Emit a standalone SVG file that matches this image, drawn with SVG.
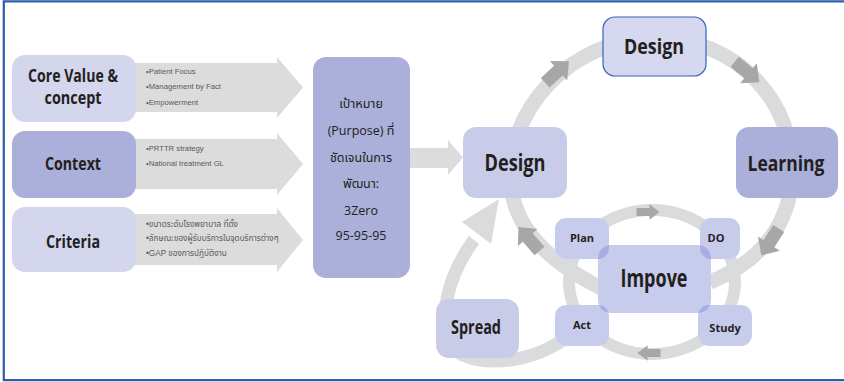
<svg xmlns="http://www.w3.org/2000/svg" width="844" height="382" viewBox="0 0 844 382">
  <defs>
    <style>
      .title { font-family: "Open Sans", "Noto Sans", sans-serif; font-weight: 700; fill: #231f20; text-anchor: middle; }
      .bul { font-family: "Liberation Sans", "Noto Sans Thai", "Noto Sans", sans-serif; font-size: 7.7px; fill: #595959; }
      .bul.th { font-size: 8.2px; }
      .purp { font-family: "Open Sans", "Noto Sans Thai", "Noto Sans", sans-serif; font-size: 12.5px; fill: #231f20; text-anchor: middle; }
      .flat { fill: #dcdcdc; }
      .band { fill: none; stroke: #dadbdc; }
      .dark { fill: #a6a7a9; }
      .light { fill: #d4d6ee; }
      .mid { fill: #c9cce9; }
      .deep { fill: #aab0d9; }
      .under { fill: #ffffff; }
      .glass { fill: #7a82d1; fill-opacity: 0.41; }
    </style>
    <!-- block arrow pointing along +x, centred on the origin -->
    <path id="blk" d="M-16,-6.5 L2,-6.5 L2,-13 L16,0 L2,13 L2,6.5 L-16,6.5 Z"/>
  </defs>

  <rect width="844" height="382" fill="#ffffff"/>
  <!-- frame (right edge runs past the canvas) -->
  <path d="M846,1.4 L3.8,1.4 L3.8,380.2 L846,380.2" fill="none" stroke="#2f5ea8" stroke-width="2.2"/>

  <!-- connectors: flat arrows, loops and direction marks -->
  <g id="connectors">
    <path class="flat" d="M130,63 L277,63 L277,57 L303,87.5 L277,118 L277,112 L130,112 Z"/>
    <path class="flat" d="M130,139 L277,139 L277,133 L303,164 L277,195 L277,189 L130,189 Z"/>
    <path class="flat" d="M130,214 L277,214 L277,208 L303,240 L277,272 L277,265 L130,265 Z"/>
    <path class="flat" d="M405,148 L448,148 L448,140 L463,157.5 L448,175 L448,168 L405,168 Z"/>

    <!-- outer improvement loop -->
    <path class="band" stroke-width="15" d="M605,290 C560,268 515,235 511,185 C505,110 570,40 654,38 C740,38 795,105 792,175 C790,225 760,262 710,282"/>
    <!-- PDSA ring -->
    <ellipse class="band" stroke-width="12" cx="652" cy="282" rx="83" ry="72"/>
    <!-- spread loop back to design -->
    <path class="band" stroke-width="13" d="M578,326 C548,362 478,372 452,348 C436,322 448,275 474,240"/>
    <path fill="#dadbdc" d="M462,222 L499,199 L491,244 Z"/>

    <use href="#blk" class="dark" transform="translate(557,72) rotate(-42)"/>
    <use href="#blk" class="dark" transform="translate(747,72) rotate(40)"/>
    <use href="#blk" class="dark" transform="translate(770,242) rotate(123)"/>
    <use href="#blk" class="dark" transform="translate(529,239) rotate(-131)"/>
    <use href="#blk" class="dark" transform="translate(648,212) scale(0.72,0.6)"/>
    <use href="#blk" class="dark" transform="translate(649,353) rotate(180) scale(0.72,0.6)"/>
  </g>

  <!-- left column -->
  <g id="core-value">
    <rect class="light" x="12" y="55" width="124" height="67" rx="13"/>
    <text class="title" font-size="18" x="73" y="82" textLength="90" lengthAdjust="spacingAndGlyphs">Core Value &amp;</text>
    <text class="title" font-size="18" x="73" y="104" textLength="57" lengthAdjust="spacingAndGlyphs">concept</text>
  </g>
  <g id="core-value-items">
    <text class="bul" x="146" y="74">•Patient Focus</text>
    <text class="bul" x="146" y="89">•Management by Fact</text>
    <text class="bul" x="146" y="105">•Empowerment</text>
  </g>

  <g id="context">
    <rect class="deep" x="12" y="131" width="124" height="67" rx="13"/>
    <text class="title" font-size="18" x="73" y="170" textLength="56" lengthAdjust="spacingAndGlyphs">Context</text>
  </g>
  <g id="context-items">
    <text class="bul" x="146" y="151">•PRTTR strategy</text>
    <text class="bul" x="146" y="166">•National treatment GL</text>
  </g>

  <g id="criteria">
    <rect class="light" x="12" y="207" width="124" height="65" rx="13"/>
    <text class="title" font-size="18" x="73" y="248" textLength="54" lengthAdjust="spacingAndGlyphs">Criteria</text>
  </g>
  <g id="criteria-items">
    <text class="bul th" x="146" y="227">•ขนาดระดับโรงพยาบาล ที่ตั้ง</text>
    <text class="bul th" x="146" y="241">•ลักษณะของผู้รับบริการในจุดบริการต่างๆ</text>
    <text class="bul th" x="146" y="256">•GAP ของการปฏิบัติงาน</text>
  </g>

  <g id="purpose">
    <rect class="deep" x="313" y="57" width="97" height="221" rx="13"/>
    <text class="purp" x="361" y="108">เป้าหมาย</text>
    <text class="purp" x="361" y="135">(Purpose) ที่</text>
    <text class="purp" x="361" y="162">ชัดเจนในการ</text>
    <text class="purp" x="361" y="188">พัฒนา:</text>
    <text class="purp" x="361" y="215">3Zero</text>
    <text class="purp" x="361" y="240">95-95-95</text>
  </g>

  <!-- cycle -->
  <g id="design-left">
    <rect class="mid" x="463" y="127" width="104" height="71" rx="13"/>
    <text class="title" font-size="23" x="515" y="171" textLength="61" lengthAdjust="spacingAndGlyphs">Design</text>
  </g>
  <g id="design-top">
    <rect x="603" y="17" width="103" height="59" rx="12" fill="#d5d8ef" stroke="#3565b5" stroke-width="1.2"/>
    <text class="title" font-size="22" x="654" y="54" textLength="60" lengthAdjust="spacingAndGlyphs">Design</text>
  </g>
  <g id="learning">
    <rect class="deep" x="736" y="127" width="102" height="71" rx="13"/>
    <text class="title" font-size="21" x="786" y="171" textLength="77" lengthAdjust="spacingAndGlyphs">Learning</text>
  </g>
  <g id="spread">
    <rect class="mid" x="436" y="299" width="83" height="59" rx="13"/>
    <text class="title" font-size="20" x="476" y="334" textLength="50" lengthAdjust="spacingAndGlyphs">Spread</text>
  </g>

  <!-- PDSA cluster: white underlay, translucent tint so overlaps darken -->
  <g id="pdsa-underlay">
    <rect class="under" x="555" y="218" width="54" height="41" rx="11"/>
    <rect class="under" x="700" y="218" width="40" height="41" rx="11"/>
    <rect class="under" x="555" y="305" width="54" height="41" rx="11"/>
    <rect class="under" x="698" y="305" width="54" height="41" rx="11"/>
    <rect class="under" x="598" y="245" width="113" height="68" rx="13"/>
  </g>
  <g id="plan">
    <rect class="glass" x="555" y="218" width="54" height="41" rx="11"/>
    <text class="title" font-size="11" x="582" y="242">Plan</text>
  </g>
  <g id="do">
    <rect class="glass" x="700" y="218" width="40" height="41" rx="11"/>
    <text class="title" font-size="11" x="716" y="242">DO</text>
  </g>
  <g id="act">
    <rect class="glass" x="555" y="305" width="54" height="41" rx="11"/>
    <text class="title" font-size="11" x="582" y="329">Act</text>
  </g>
  <g id="study">
    <rect class="glass" x="698" y="305" width="54" height="41" rx="11"/>
    <text class="title" font-size="11" x="725" y="332">Study</text>
  </g>
  <g id="impove">
    <rect class="glass" x="598" y="245" width="113" height="68" rx="13"/>
    <text class="title" font-size="25" x="654" y="287" textLength="67" lengthAdjust="spacingAndGlyphs">Impove</text>
  </g>
</svg>
